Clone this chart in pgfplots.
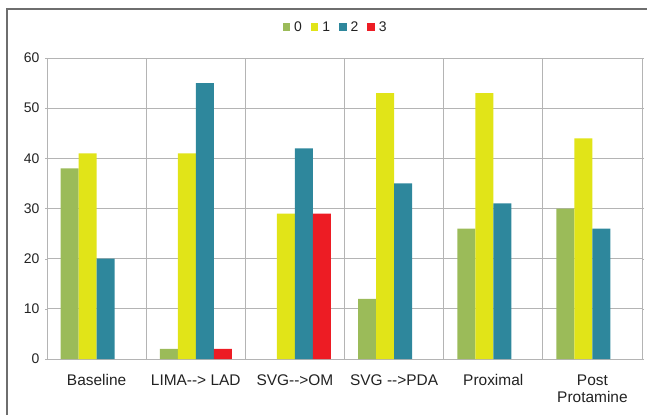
\documentclass[border=0pt]{standalone}
\usepackage{fontspec}
\setmainfont{Liberation Sans}[Ligatures=TeXOff]
\usepackage{pgfplots}
\pgfplotsset{compat=1.18}
\definecolor{cgreen}{HTML}{9BBB59}
\definecolor{cyellow}{HTML}{E1E418}
\definecolor{cteal}{HTML}{2E879C}
\definecolor{cred}{HTML}{ED1C24}
\definecolor{gridgray}{HTML}{B4B4B4}
\definecolor{framegray}{HTML}{6E6E6E}
\definecolor{textgray}{HTML}{222222}
\begin{document}
\begin{tikzpicture}[x=1bp,y=1bp]
\useasboundingbox (0,0) rectangle (647,415);
% outer frame
\draw[framegray, line width=1.3bp] (7,0) -- (7,406) -- (647,406);
\begin{axis}[
  at={(47bp,56bp)}, anchor=south west,
  scale only axis, width=595bp, height=301bp,
  ybar=0pt, bar width=18bp,
  xmin=-0.5, xmax=5.5, ymin=0, ymax=60,
  ytick={0,10,...,60},
  xtick={0,...,5},
  xticklabels={Baseline, {LIMA--> LAD}, {SVG-->OM}, {SVG -->PDA}, Proximal, {Post\\Protamine}},
  xticklabel style={align=center, text=textgray, font=\fontsize{15.5}{17.5}\selectfont, yshift=-10bp},
  yticklabel style={text=textgray, font=\fontsize{14}{16}\selectfont, xshift=-2bp},
  /pgf/number format/assume math mode=true,
  minor xtick={0.5,1.5,...,4.5},
  xminorgrids, ymajorgrids,
  major x tick style={draw=none},
  minor x tick style={draw=none},
  major y tick style={draw=gridgray},
  tick align=outside, major tick length=2bp,
  grid style={gridgray, line width=0.9bp},
  minor grid style={gridgray, line width=0.9bp},
  axis line style={gridgray, line width=0.9bp},
  legend style={at={(0.485,1)}, anchor=south, yshift=21bp, draw=none, fill=none,
    legend columns=4, font=\fontsize{14}{16}\selectfont, text=textgray,
    /tikz/every odd column/.append style={column sep=2bp},
    /tikz/every even column/.append style={column sep=7bp}},
  legend image code/.code={\fill[#1] (0bp,-4bp) rectangle (7.5bp,4bp);},
]
\addplot[fill=cgreen, draw=none] coordinates {(0,38) (1,2) (3,12) (4,26) (5,30)};
\addplot[fill=cyellow, draw=none] coordinates {(0,41) (1,41) (2,29) (3,53) (4,53) (5,44)};
\addplot[fill=cteal, draw=none] coordinates {(0,20) (1,55) (2,42) (3,35) (4,31) (5,26)};
\addplot[fill=cred, draw=none] coordinates {(1,2) (2,29)};
\legend{0,1,2,3}
\end{axis}
\end{tikzpicture}
\end{document}
